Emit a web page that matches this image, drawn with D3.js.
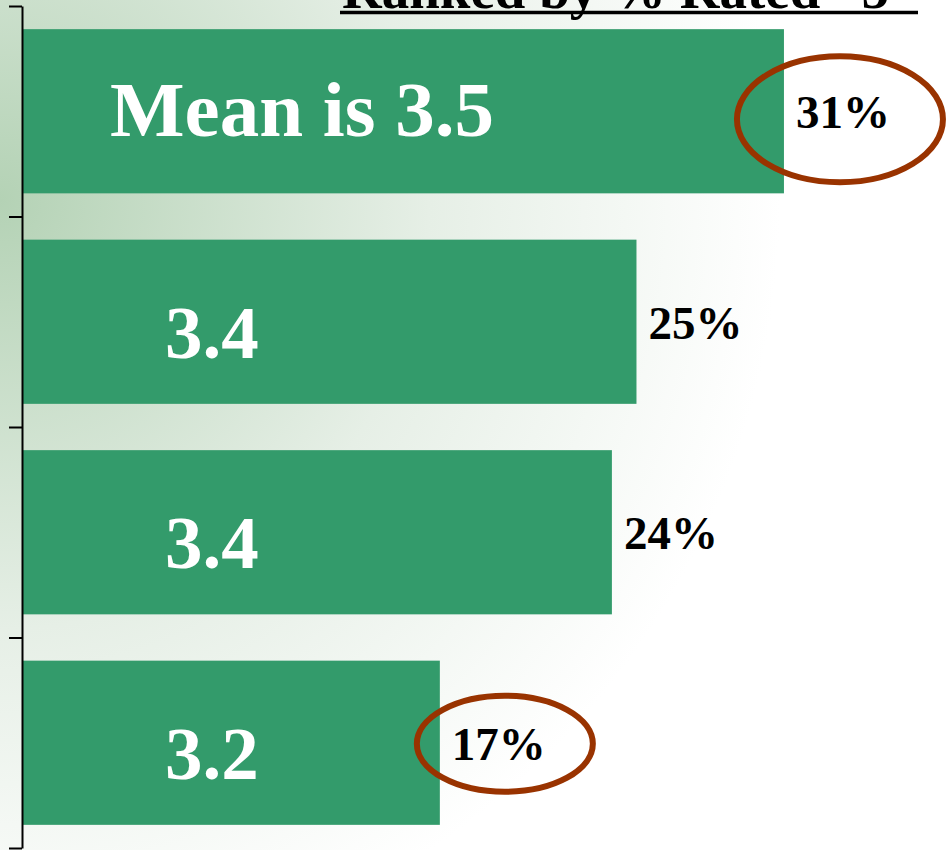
<!DOCTYPE html>
<html>
<head>
<meta charset="utf-8">
<script src="https://cdn.jsdelivr.net/npm/d3@7"></script>
<style>
  html, body { margin: 0; padding: 0; background: #fff; overflow: hidden; }
  svg { display: block; }
</style>
</head>
<body>
<svg id="chart" width="952" height="850"></svg>
<script>
// data
var categories = ["A", "B", "C", "D"],
    pctRated5 = [31, 25, 24, 17],
    meanLabels = ["Mean is 3.5", "3.4", "3.4", "3.2"],
    highlighted = [0, 3],
    titleText = "Ranked by % Rated \u201C5\u201D";

var width = 952, height = 850;
var svg = d3.select("#chart");

// soft green backdrop fading out to white
var defs = svg.append("defs");
var grad = defs.append("radialGradient")
  .attr("id", "bg")
  .attr("gradientUnits", "userSpaceOnUse")
  .attr("cx", 0).attr("cy", 200).attr("r", 780);
grad.append("stop").attr("offset", 0).attr("stop-color", "#b4d2b5");
grad.append("stop").attr("offset", 0.55).attr("stop-color", "#e6efe6");
grad.append("stop").attr("offset", 1).attr("stop-color", "#ffffff");

svg.append("rect")
  .attr("width", width).attr("height", height)
  .attr("fill", "url(#bg)");

var scales = {
  "x": d3.scaleLinear()
    .domain([0, 38])
    .range([22, 956]),
  "y": d3.scaleBand()
    .domain(categories)
    .range([6, 848])
    .paddingInner(0.22)
    .paddingOuter(0.11),
  "edge": d3.scaleLinear()
    .domain([0, categories.length])
    .range([6, 848])
};

var rows = categories.map((c, i) => ({cat: c, pct: pctRated5[i], mean: meanLabels[i], i: i}));

// bars
svg.append("g").selectAll("rect")
  .data(rows).enter()
  .append("rect")
  .attr("x", scales.x(0) + 1)
  .attr("y", (d) => scales.y(d.cat))
  .attr("width", (d) => scales.x(d.pct) - scales.x(0) - 1)
  .attr("height", scales.y.bandwidth())
  .attr("fill", "#339b6b");

// mean labels inside bars
svg.append("g").selectAll("text")
  .data(rows).enter()
  .append("text")
  .attr("x", (d) => d.i === 0 ? 110 : 165)
  .attr("y", (d) => scales.y(d.cat) + scales.y.bandwidth() / 2 + (d.i === 0 ? 25 : 36))
  .attr("font-family", "'Liberation Serif', 'DejaVu Serif', serif")
  .attr("font-weight", "bold")
  .attr("font-size", (d) => d.i === 0 ? 79 : 75)
  .attr("fill", "#ffffff")
  .text((d) => d.mean);

// percent labels at bar ends
svg.append("g").selectAll("text")
  .data(rows).enter()
  .append("text")
  .attr("x", (d) => scales.x(d.pct) + 12)
  .attr("y", (d) => scales.y(d.cat) + scales.y.bandwidth() / 2 + 17)
  .attr("font-family", "'Liberation Serif', 'DejaVu Serif', serif")
  .attr("font-weight", "bold")
  .attr("font-size", 47)
  .attr("fill", "#000")
  .text((d) => d.pct + "%");

// circled values
svg.append("g").selectAll("ellipse")
  .data(rows.filter((d) => highlighted.includes(d.i))).enter()
  .append("ellipse")
  .attr("cx", (d) => scales.x(d.pct) + (d.i === 0 ? 56 : 65))
  .attr("cy", (d) => scales.y(d.cat) + scales.y.bandwidth() / 2 + (d.i === 0 ? 8 : 1))
  .attr("rx", (d) => d.i === 0 ? 103 : 88)
  .attr("ry", (d) => d.i === 0 ? 63 : 48)
  .attr("fill", "none")
  .attr("stroke", "#993300")
  .attr("stroke-width", 6);

// left axis with ticks on the category boundaries
var axis = d3.axisLeft(scales.edge)
  .tickValues(d3.range(categories.length + 1))
  .tickSize(13)
  .tickSizeOuter(0)
  .tickFormat("");

svg.append("g")
  .attr("transform", "translate(22,0)")
  .call(axis)
  .call((g) => g.selectAll("line, path").attr("stroke", "#000").attr("stroke-width", 2));

// title, mostly cut off by the top edge (as in the source slide)
svg.append("text")
  .attr("x", 342)
  .attr("y", 8)
  .attr("font-family", "'Liberation Serif', 'DejaVu Serif', serif")
  .attr("font-weight", "bold")
  .attr("font-size", 55)
  .attr("fill", "#000")
  .text(titleText);

svg.append("line")
  .attr("x1", 340).attr("x2", 918)
  .attr("y1", 12.5).attr("y2", 12.5)
  .attr("stroke", "#000")
  .attr("stroke-width", 3.5);
</script>
</body>
</html>
